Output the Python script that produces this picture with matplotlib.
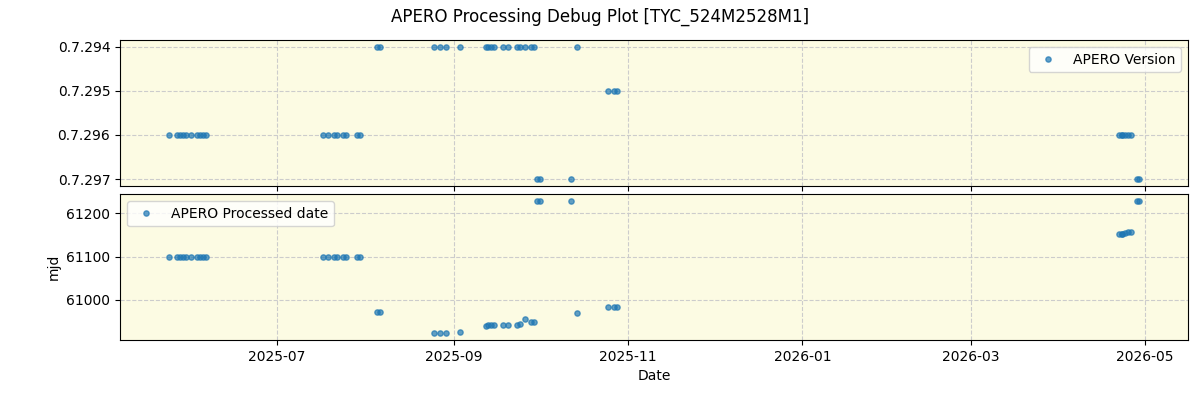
import matplotlib
matplotlib.use("Agg")
import matplotlib.pyplot as plt
import pandas as pd

# observation dates, APERO version and processed date (mjd)
dates = ["2025-05-24", "2025-05-27", "2025-05-28", "2025-05-29", "2025-05-30",
         "2025-06-01", "2025-06-03", "2025-06-04", "2025-06-05", "2025-06-06",
         "2025-07-17", "2025-07-19", "2025-07-21", "2025-07-22", "2025-07-24",
         "2025-07-25", "2025-07-29", "2025-07-30",
         "2025-08-05", "2025-08-06",
         "2025-08-25", "2025-08-27", "2025-08-29", "2025-09-03",
         "2025-09-12", "2025-09-13", "2025-09-14", "2025-09-15",
         "2025-09-18", "2025-09-20", "2025-09-23", "2025-09-24",
         "2025-09-26", "2025-09-28", "2025-09-29", "2025-10-14",
         "2025-09-30", "2025-10-01", "2025-10-12",
         "2025-10-25", "2025-10-27", "2025-10-28",
         "2026-04-22", "2026-04-23", "2026-04-23", "2026-04-24", "2026-04-25", "2026-04-26",
         "2026-04-28", "2026-04-29"]

versions = (["0.7.296"] * 18 + ["0.7.294"] * 18 + ["0.7.297"] * 3
            + ["0.7.295"] * 3 + ["0.7.296"] * 6 + ["0.7.297"] * 2)

mjd = [61099] * 18 + [60972, 60972,
       60921.5, 60921.5, 60921.5, 60924,
       60937.6, 60940.6, 60940.6, 60940.6,
       60942, 60942, 60942, 60944,
       60953.8, 60949, 60949, 60967.7,
       61229, 61229, 61229,
       60983.8, 60983.8, 60983.8,
       61153, 61153, 61153, 61154, 61156, 61157.6,
       61229, 61229]

version_order = ["0.7.297", "0.7.296", "0.7.295", "0.7.294"]

t = pd.to_datetime(dates)
vidx = [version_order.index(v) for v in versions]

bg = "#fcfbe3"
fig, (ax1, ax2) = plt.subplots(2, 1, figsize=(12, 4), dpi=100, sharex=True)
fig.subplots_adjust(left=0.1, right=0.99, top=0.9, bottom=0.15, hspace=0.06)

ax1.plot(t, vidx, "o", color="#1f77b4", ms=3.8, alpha=0.7, label="APERO Version")
ax1.set_yticks(range(len(version_order)))
ax1.set_yticklabels(version_order)
ax1.set_facecolor(bg)
ax1.grid(True, ls="--", color="#cccccc")
ax1.legend(loc="upper right")

ax2.plot(t, mjd, "o", color="#1f77b4", ms=3.8, alpha=0.7, label="APERO Processed date")
ax2.set_facecolor(bg)
ax2.grid(True, ls="--", color="#cccccc")
ax2.set_ylabel("mjd")
ax2.set_xlabel("Date")
ax2.legend(loc="upper left")

fig.suptitle("APERO Processing Debug Plot [TYC_524M2528M1]")
fig.savefig("out.png")
